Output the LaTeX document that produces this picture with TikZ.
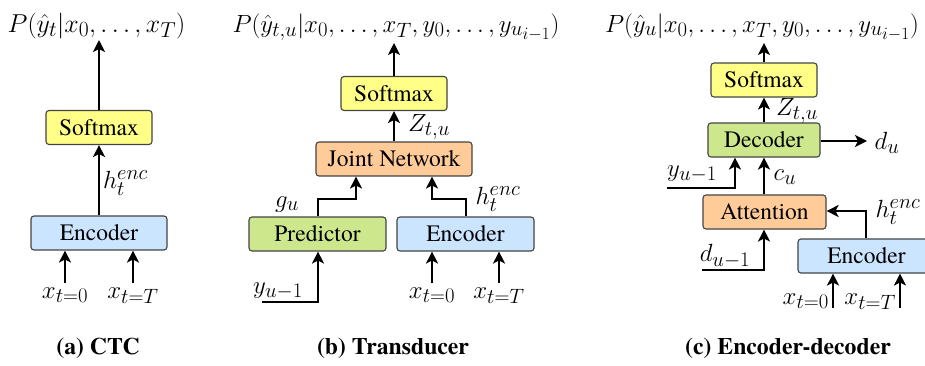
\documentclass[tikz,border=0pt]{standalone}
\usepackage[no-math]{fontspec}
% Times-like text if TeX Gyre Termes is at hand, Latin Modern otherwise
\IfFontExistsTF{texgyretermes-regular.otf}{%
  \setmainfont{texgyretermes}[Extension=.otf, UprightFont=*-regular, BoldFont=*-bold, ItalicFont=*-italic, BoldItalicFont=*-bolditalic]%
  \newcommand\boxsize{\fontsize{23.5}{28}\selectfont}%
  \newcommand\capsize{\fontsize{23.7}{28}\selectfont}%
}{%
  \newcommand\boxsize{\fontsize{21.2}{26}\selectfont}%
  \newcommand\capsize{\fontsize{20.8}{26}\selectfont}%
}
\usetikzlibrary{arrows.meta}
\definecolor{boxyellow}{HTML}{FFFF88}
\definecolor{boxblue}{HTML}{CCE5FF}
\definecolor{boxgreen}{HTML}{CDE88C}
\definecolor{boxorange}{HTML}{FFCC99}
\definecolor{boxedge}{HTML}{444444}
\begin{document}
\begin{tikzpicture}[x=1pt,y=-1pt,
  font=\fontsize{24.88}{29}\selectfont,
  block/.style={draw=boxedge, line width=1.1pt, rounded corners=3pt,
    minimum height=34pt, inner sep=0pt, text height=15.4pt, text depth=0pt,
    font=\boxsize},
  arr/.style={-{Stealth[length=12pt,width=12pt,inset=3pt]}, line width=1.8pt},
  lab/.style={inner sep=0pt},
  title/.style={inner sep=0pt, anchor=base},
  caption/.style={inner sep=0pt, anchor=base, font=\capsize\bfseries}]
\useasboundingbox (0,0) rectangle (925,365);
\clip (0,0) rectangle (925,365);

% ---------------- (a) CTC ----------------
\node[block, fill=boxyellow, minimum width=106pt] (asoft) at (99,127.5) {Softmax};
\node[block, fill=boxblue, minimum width=136pt] (aenc) at (99,233) {Encoder};
\node[title] (aout) at (96.5,32) {\scalebox{1.04}{$P(\hat{y}_t|x_0,\ldots,x_T)$}};
\coordinate (aouttip) at (99,40);
\draw[arr] (asoft.north) -- (aouttip);
\draw[arr] (aenc.north) -- (asoft.south);
\node[lab, anchor=west] (ah) at (103,183) {$h_t^{enc}$};
\coordinate (ain0) at (65,283);
\coordinate (ainT) at (133,283);
\draw[arr] (ain0) -- (ain0 |- aenc.south);
\draw[arr] (ainT) -- (ainT |- aenc.south);
\node[lab, anchor=base] (ax0) at (65,298) {$x_{t=0}$};
\node[lab, anchor=base] (axT) at (133,298) {$x_{t=T}$};
\node[caption] (acap) at (98,354) {(a) CTC};

% ---------------- (b) Transducer ----------------
\node[block, fill=boxyellow, minimum width=106pt] (bsoft) at (394,93.5) {Softmax};
\node[block, fill=boxorange, minimum width=156pt] (bjoint) at (394,159) {Joint Network};
\node[block, fill=boxgreen, minimum width=137pt] (bpred) at (317.5,234) {Predictor};
\node[block, fill=boxblue, minimum width=137pt] (benc) at (465.5,234) {Encoder};
\node[title] (bout) at (396,32) {$P(\hat{y}_{t,u}|x_0,\ldots,x_T,y_0,\ldots,y_{u_{i-1}})$};
\coordinate (bouttip) at (394,43);
\draw[arr] (bsoft.north) -- (bouttip);
\draw[arr] (bjoint.north) -- (bsoft.south);
\node[lab] (bz) at (429,127) {$Z_{t,u}$};
% predictor and encoder into the joint network
\coordinate (bpredtop) at (318,217);
\coordinate (bjl) at (356,176);
\draw[arr] (bpredtop |- bpred.north) |- (356,199) -- (bjl |- bjoint.south);
\coordinate (benctop) at (466,217);
\coordinate (bjr) at (432,176);
\draw[arr] (benctop |- benc.north) |- (432,199) -- (bjr |- bjoint.south);
\node[lab, anchor=base] (bg) at (287,207) {$g_u$};
\node[lab] (bh) at (498,199) {$h_t^{enc}$};
% label input into the predictor
\coordinate (bystart) at (262,302);
\draw[arr] (bystart) -| (bpredtop |- bpred.south);
\node[lab, anchor=base west] (by) at (253,293) {$y_{u-1}$};
% frames into the encoder
\coordinate (bin0) at (432,283);
\coordinate (binT) at (499,283);
\draw[arr] (bin0) -- (bin0 |- benc.south);
\draw[arr] (binT) -- (binT |- benc.south);
\node[lab, anchor=base] (bx0) at (432,298) {$x_{t=0}$};
\node[lab, anchor=base] (bxT) at (499,298) {$x_{t=T}$};
\node[caption] (bcap) at (393,354) {(b) Transducer};

% ---------------- (c) Encoder-decoder ----------------
\node[block, fill=boxyellow, minimum width=106pt] (csoft) at (764,80) {Softmax};
\node[block, fill=boxgreen, minimum width=112pt] (cdec) at (764,140) {Decoder};
\node[block, fill=boxorange, minimum width=123pt] (catt) at (764.5,212) {Attention};
\node[block, fill=boxblue, minimum width=137pt] (cenc) at (866.5,256) {Encoder};
\node[title] (cout) at (762,32) {$P(\hat{y}_u|x_0,\ldots,x_T,y_0,\ldots,y_{u_{i-1}})$};
\coordinate (couttip) at (764,43);
\draw[arr] (csoft.north) -- (couttip);
\draw[arr] (cdec.north) -- (csoft.south);
\node[lab] (cz) at (797,111) {$Z_{t,u}$};
% decoder state output
\coordinate (cdtip) at (867,141);
\draw[arr] (cdec.east |- cdtip) -- (cdtip);
\node[lab] (cdu) at (887,143) {$d_u$};
% context vector into the decoder
\draw[arr] (catt.north -| cdec.south) -- (cdec.south);
\node[lab] (ccu) at (785,177) {$c_u$};
% previous label into the decoder
\coordinate (cystart) at (667,188);
\coordinate (cyin) at (735,157);
\draw[arr] (cystart) -| (cyin |- cdec.south);
\node[lab] (cy) at (692,174) {$y_{u-1}$};
% previous decoder state into the attention
\coordinate (cdstart) at (702,270);
\coordinate (cdin) at (764,229);
\draw[arr] (cdstart) -| (cdin |- catt.south);
\node[lab] (cd) at (725,256) {$d_{u-1}$};
% encoder output into the attention
\coordinate (cencup) at (866,211);
\draw[arr] (cencup |- cenc.north) |- (catt.east |- cencup);
\node[lab] (ch) at (898,212) {$h_t^{enc}$};
% frames into the encoder
\coordinate (cin0) at (833,308);
\coordinate (cinT) at (900,308);
\draw[arr] (cin0) -- (cin0 |- cenc.south);
\draw[arr] (cinT) -- (cinT |- cenc.south);
\node[lab, anchor=base east] (cx0) at (829,304) {$x_{t=0}$};
\node[lab, anchor=base east] (cxT) at (896,304) {$x_{t=T}$};
\node[caption] (ccap) at (788,354) {(c) Encoder-decoder};
\end{tikzpicture}
\end{document}
